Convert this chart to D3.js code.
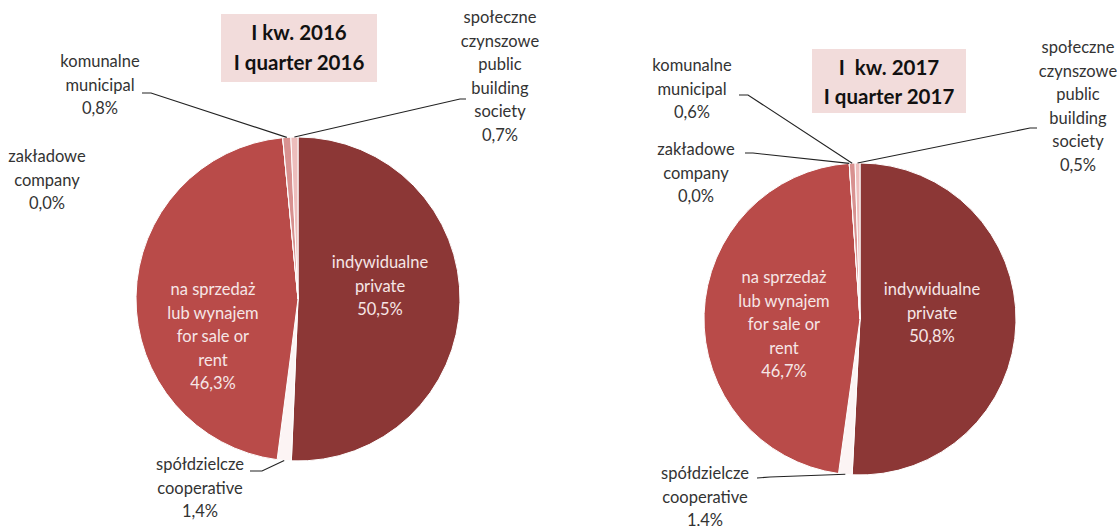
<!DOCTYPE html>
<html><head><meta charset="utf-8">
<script src="https://cdn.jsdelivr.net/npm/d3@7"></script>
<style>
html,body{margin:0;padding:0;background:#fff;}
svg{display:block;font-family:Lato,"Open Sans",sans-serif;}
</style></head>
<body><svg id="c" width="1117" height="526"></svg>
<script>
// ---- data ----
const categories = ["indywidualne", "spółdzielcze", "na sprzedaż", "zakładowe", "komunalne", "społeczne"];
const labelLines = [
  ["indywidualne", "private"],
  ["spółdzielcze", "cooperative"],
  ["na sprzedaż", "lub wynajem", "for sale or", "rent"],
  ["zakładowe", "company"],
  ["komunalne", "municipal"],
  ["społeczne", "czynszowe", "public", "building", "society"]
];
const values2016 = [50.5, 1.4, 46.3, 0.0, 0.8, 0.7];
const values2017 = [50.8, 1.4, 46.7, 0.0, 0.6, 0.5];
const titles2016 = ["I kw. 2016", "I quarter 2016"];
const titles2017 = ["I  kw. 2017", "I quarter 2017"];
const colors = ["#8C3736", "#FCF4F4", "#B94B49", "#C96B6A", "#D89190", "#EDBDBC"];

// ---- layout ----
const svg = d3.select("#c");
const fmt = v => d3.format(".1f")(v).replace(".", ",");
const color = d3.scaleOrdinal().domain(categories).range(colors);
const lh = 23.5;

const charts = [
  { values: values2016, titles: titles2016, cx: 298, cy: 299, r: 162,
    box: {x: 221, y: 14, w: 156, h: 68}, titleY: [40, 70],
    labels: [
      {x: 380, y: 268, inside: true},
      {x: 200, y: 470, lead: [[250, 471], [262, 471]]},
      {x: 213, y: 295, inside: true},
      {x: 47, y: 162},
      {x: 100, y: 67, lead: [[142, 93], [151, 93]]},
      {x: 500, y: 23, lead: [[466, 99], [460, 99]]}
    ]},
  { values: values2017, titles: titles2017, cx: 860, cy: 319, r: 156,
    box: {x: 812, y: 49, w: 154, h: 64}, titleY: [75, 104],
    labels: [
      {x: 932, y: 295, inside: true},
      {x: 705, y: 479, lead: [[757, 478], [770, 477]]},
      {x: 784, y: 283, inside: true},
      {x: 696, y: 155, lead: [[745, 153], [753, 153]]},
      {x: 692, y: 71, lead: [[739, 95], [748, 95]]},
      {x: 1078, y: 53, lead: [[1037, 128], [1030, 128]]}
    ]}
];

const pie = d3.pie().sort(null).value(d => d);

charts.forEach(ch => {
  const g = svg.append("g").attr("transform", `translate(${ch.cx},${ch.cy})`);
  const arc = d3.arc().innerRadius(0).outerRadius(ch.r);
  const arcs = pie(ch.values);
  g.selectAll("path.slice").data(arcs).join("path")
    .attr("class", "slice")
    .attr("d", arc)
    .attr("fill", (d, i) => color(categories[i]))
    .attr("stroke", "#fff").attr("stroke-width", 1);

  // title box
  svg.append("rect").attr("x", ch.box.x).attr("y", ch.box.y)
    .attr("width", ch.box.w).attr("height", ch.box.h).attr("fill", "#F2DCDB");
  ch.titles.forEach((t, i) => {
    svg.append("text").attr("x", ch.box.x + ch.box.w / 2).attr("y", ch.titleY[i])
      .attr("text-anchor", "middle").attr("font-size", 20.5).attr("font-weight", "bold")
      .attr("fill", "#111").style("white-space", "pre").text(t);
  });

  // labels
  arcs.forEach((a, i) => {
    const L = ch.labels[i];
    const lines = labelLines[i].concat([fmt(ch.values[i]) + "%"]);
    const t = svg.append("text").attr("text-anchor", "middle")
      .attr("font-size", 16.5)
      .attr("fill", L.inside ? "#F6E6E6" : "#333");
    lines.forEach((s, k) => {
      t.append("tspan").attr("x", L.x).attr("y", L.y + k * lh).text(s);
    });
    if (L.lead) {
      const mid = (a.startAngle + a.endAngle) / 2;
      const ex = ch.cx + ch.r * Math.sin(mid);
      const ey = ch.cy - ch.r * Math.cos(mid);
      const pts = L.lead.concat([[ex, ey]]);
      svg.append("path").attr("d", d3.line()(pts))
        .attr("fill", "none").attr("stroke", "#222").attr("stroke-width", 1.1);
    }
  });
});
</script></body></html>
